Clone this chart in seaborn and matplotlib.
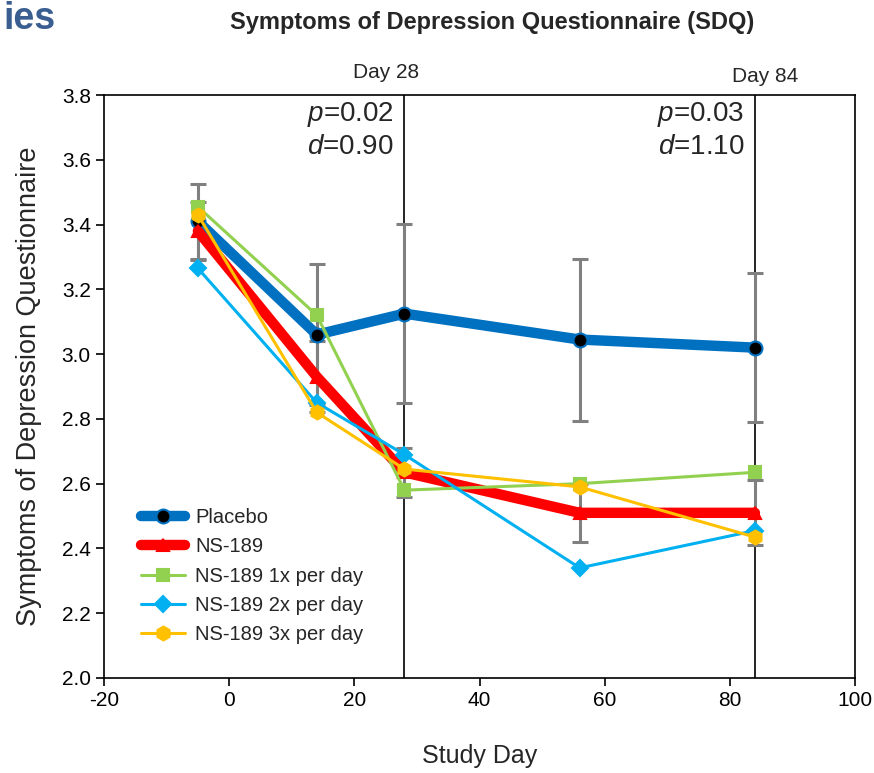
import matplotlib
matplotlib.use("Agg")
import matplotlib.pyplot as plt
import matplotlib.transforms as mtransforms
import seaborn as sns
import numpy as np

# data
days = [-5, 14, 28, 56, 84]
placebo = [3.41, 3.06, 3.125, 3.045, 3.02]
placebo_err = [0.115, 0.217, 0.277, 0.25, 0.23]
ns189 = [3.38, 2.93, 2.635, 2.51, 2.51]
ns189_err = [0.09, 0.11, 0.075, 0.09, 0.10]
ns189_1x = [3.455, 3.12, 2.58, 2.60, 2.635]
ns189_2x = [3.265, 2.85, 2.69, 2.34, 2.455]
ns189_3x = [3.43, 2.82, 2.645, 2.59, 2.435]

series_names = ["Placebo", "NS-189", "NS-189 1x per day",
                "NS-189 2x per day", "NS-189 3x per day"]
x_ticks = [-20, 0, 20, 40, 60, 80, 100]
y_ticks = [2.0, 2.2, 2.4, 2.6, 2.8, 3.0, 3.2, 3.4, 3.6, 3.8]

sns.set_style("ticks")
plt.rcParams["font.family"] = ["Liberation Sans", "DejaVu Sans"]
plt.rcParams["axes.unicode_minus"] = False
plt.rcParams["mathtext.fontset"] = "custom"
plt.rcParams["mathtext.rm"] = "Liberation Sans"
plt.rcParams["mathtext.it"] = "Liberation Sans:italic"

fig = plt.figure(figsize=(8.74, 7.73), dpi=100)
ax = fig.add_axes([0.119, 0.1229, 0.8593, 0.7542])

# error bars (gray, behind the lines)
ax.errorbar(days, placebo, yerr=placebo_err, fmt="none", ecolor="#808080",
            elinewidth=2.2, capsize=5.5, capthick=2.2, zorder=1)
ax.errorbar(days, ns189, yerr=ns189_err, fmt="none", ecolor="#808080",
            elinewidth=2.2, capsize=5.5, capthick=2.2, zorder=1)

# vertical reference lines
ax.axvline(28, color="black", lw=1.2, zorder=0.5)
ax.axvline(84, color="black", lw=1.2, zorder=0.5)

styles = [
    (placebo, "#0070C0", 7.5, "o", 10, "black", "#0070C0"),
    (ns189, "#FF0000", 7.5, "^", 9, "#FF0000", "#FF0000"),
    (ns189_1x, "#92D050", 2.2, "s", 9, "#92D050", "#92D050"),
    (ns189_2x, "#00B0F0", 2.2, "D", 8.5, "#00B0F0", "#00B0F0"),
    (ns189_3x, "#FFC000", 2.2, "h", 10, "#FFC000", "#FFC000"),
]
for i, (vals, col, lw, mk, ms, mfc, mec) in enumerate(styles):
    sns.lineplot(x=days, y=vals, ax=ax, color=col, linewidth=lw, marker=mk,
                 markersize=ms, markerfacecolor=mfc, markeredgecolor=mec,
                 markeredgewidth=1.5, label=series_names[i], zorder=2 + i)

ax.set_xlim(-20, 100)
ax.set_ylim(2.0, 3.8)
ax.set_xticks(x_ticks)
ax.set_yticks(y_ticks)
ax.set_yticklabels([f"{v:.1f}" for v in y_ticks])
ax.tick_params(axis="both", labelsize=15, direction="out", length=6,
               width=1.2, colors="black")
for s in ax.spines.values():
    s.set_color("black")
    s.set_linewidth(1.2)

ax.set_xlabel("Study Day", fontsize=18, labelpad=24)
ax.set_ylabel("Symptoms of Depression Questionnaire", fontsize=19.5, labelpad=14)

trans = mtransforms.blended_transform_factory(ax.transData, ax.transAxes)
ax.text(25.0, 1.038, "Day 28", transform=trans, ha="center", va="center", fontsize=15)
ax.text(85.7, 1.031, "Day 84", transform=trans, ha="center", va="center", fontsize=15)

ax.text(26.3, 3.74, "$p$=0.02", ha="right", va="center", fontsize=20)
ax.text(26.3, 3.64, "$d$=0.90", ha="right", va="center", fontsize=20)
ax.text(82.3, 3.74, "$p$=0.03", ha="right", va="center", fontsize=20)
ax.text(82.3, 3.64, "$d$=1.10", ha="right", va="center", fontsize=20)

fig.text(0.5625, 0.971, "Symptoms of Depression Questionnaire (SDQ)",
         ha="center", va="center", fontsize=17, fontweight="bold")
fig.text(0.004, 0.962, "ies", ha="left", va="baseline", fontsize=27,
         fontweight="bold", color="#3B5E91")

leg = ax.legend(loc="lower left", bbox_to_anchor=(0.038, 0.045), frameon=False,
                fontsize=14.5, handlelength=2.2, labelspacing=0.5,
                handletextpad=0.5, borderaxespad=0)

fig.savefig("out.png", dpi=100)
